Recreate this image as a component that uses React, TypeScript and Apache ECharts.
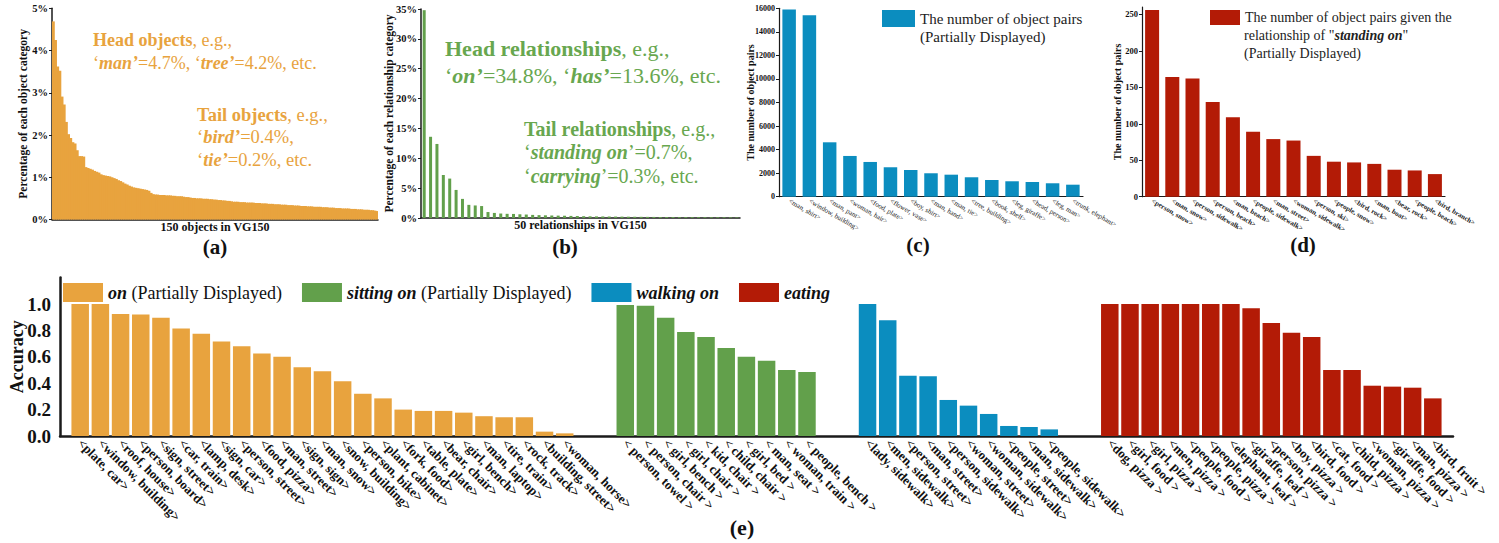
import React, { useEffect, useRef } from "react";
import * as echarts from "echarts";

const SERIF = "Liberation Serif, Times New Roman, serif";
const ORANGE = "#E8A33E";
const GREEN = "#62A04B";
const BLUE = "#0B8DBF";
const RED = "#B31B06";
const ORANGE_TXT = "#E8A33E";
const GREEN_TXT = "#68A74F";

// (a) percentage of each of the 150 object categories
const objectPercents = [
  4.69, 4.25, 3.62, 3.52, 2.91, 2.72, 2.31, 2.02, 1.93, 1.83, 1.8, 1.64,
  1.5, 1.5, 1.49,
  1.24, 1.22, 1.2, 1.18, 1.15, 1.13, 1.11,
  1.07, 1.05, 1.04, 1.03, 1.02, 1.0, 0.98,
  0.96, 0.93, 0.91, 0.88,
  0.85, 0.83, 0.8, 0.78, 0.76,
  0.75, 0.74, 0.73, 0.72, 0.71, 0.7, 0.68, 0.63,
  0.6, 0.59, 0.59, 0.58, 0.58, 0.58, 0.57, 0.57, 0.57, 0.56, 0.56, 0.55, 0.55, 0.55, 0.54, 0.53, 0.53,
  0.52, 0.51, 0.51, 0.5, 0.5, 0.5, 0.49, 0.49, 0.49, 0.48, 0.48, 0.47, 0.47, 0.46, 0.46, 0.45, 0.45, 0.44, 0.44, 0.43,
  0.42, 0.42, 0.42, 0.41, 0.41, 0.41, 0.4, 0.4, 0.4, 0.4, 0.39, 0.39, 0.39, 0.38, 0.38, 0.38, 0.37, 0.37, 0.37, 0.36,
  0.36, 0.36, 0.35, 0.35, 0.35, 0.34, 0.34, 0.34, 0.33, 0.33, 0.33,
  0.32, 0.32, 0.32, 0.31, 0.31, 0.31, 0.3, 0.3, 0.3, 0.3, 0.29, 0.29, 0.29, 0.28, 0.28, 0.28, 0.27, 0.27,
  0.27, 0.26, 0.26, 0.26, 0.26, 0.25, 0.25, 0.25, 0.24, 0.24, 0.24, 0.23, 0.23, 0.23, 0.22, 0.22, 0.21, 0.2,
];

// (b) percentage of each of the 50 relationship categories
const relationPercents = [
  34.8, 13.6, 12.4, 7.2, 6.6, 4.7, 3.2, 2.2, 2.1, 2.0,
  1.0, 0.85, 0.75, 0.7, 0.68, 0.62, 0.58, 0.52, 0.48, 0.45,
  0.42, 0.4, 0.38, 0.35, 0.33, 0.3, 0.28, 0.27, 0.26, 0.25,
  0.24, 0.23, 0.22, 0.21, 0.2, 0.19, 0.18, 0.17, 0.16, 0.16,
  0.15, 0.15, 0.14, 0.14, 0.13, 0.13, 0.12, 0.12, 0.11, 0.1,
];

// (c) number of object pairs
const pairLabels = [
  "<man, shirt>", "<window, building>", "<man, pant>", "<woman, hair>", "<food, plate>",
  "<flower, vase>", "<boy, shirt>", "<man, hand>", "<man, tie>", "<tree, building>",
  "<book, shelf>", "<leg, giraffe>", "<head, person>", "<leg, man>", "<trunk, elephant>",
];
const pairCounts = [15900, 15400, 4620, 3460, 2950, 2500, 2270, 1990, 1870, 1650, 1420, 1310, 1250, 1140, 1020];

// (d) number of object pairs given "standing on"
const standingLabels = [
  "<person, snow>", "<man, snow>", "<person, sidewalk>", "<person, beach>", "<man, beach>",
  "<people, sidewalk>", "<man, street>", "<woman, sidewalk>", "<person, ski>", "<people, snow>",
  "<bird, rock>", "<man, boat>", "<bear, rock>", "<people, beach>", "<bird, branch>",
];
const standingCounts = [256, 164, 162, 130, 109, 89, 79, 77, 56, 48, 47, 45, 37, 36, 31];

// (e) accuracy per predicate
const onLabels = [
  "<plate, car>", "<window, building>", "<roof, house>", "<person, board>", "<sign, street>",
  "<car, train>", "<lamp, desk>", "<sign, car>", "<person, street>", "<food, pizza>",
  "<man, street>", "<sign, sign>", "<man, snow>", "<snow, building>", "<person, bike>",
  "<plant, cabinet>", "<fork, food>", "<table, plate>", "<bear, chair>", "<girl, bench>",
  "<man, laptop>", "<tire, train>", "<rock, track>", "<building, street>", "<woman, horse>",
];
const onAccuracy = [
  1.0, 1.0, 0.925, 0.92, 0.895, 0.815, 0.775, 0.715, 0.68, 0.625,
  0.6, 0.52, 0.49, 0.415, 0.32, 0.285, 0.2, 0.19, 0.19, 0.177,
  0.15, 0.142, 0.142, 0.033, 0.02,
];
const sittingLabels = [
  "< person, towel >", "< person, chair >", "< girl, bench >", "< girl, chair >", "< kid, chair >",
  "< child, chair >", "< girl, bed >", "< man, seat >", "< woman, train >", "< people, bench >",
];
const sittingAccuracy = [0.992, 0.987, 0.896, 0.788, 0.75, 0.667, 0.6, 0.57, 0.5, 0.485];
const walkingLabels = [
  "<lady, sidewalk>", "<men, sidewalk>", "<person, street>", "<man, street>", "<person, sidewalk>",
  "<woman, street>", "<woman, sidewalk>", "<people, street>", "<man, sidewalk>", "<people, sidewalk>",
];
const walkingAccuracy = [1.0, 0.877, 0.457, 0.452, 0.273, 0.23, 0.167, 0.076, 0.068, 0.05];
const eatingLabels = [
  "<dog, pizza >", "<girl, food >", "<girl, pizza >", "<men, pizza >", "<people, food >",
  "<people, pizza >", "<elephant, leaf >", "<giraffe, leaf >", "<person, pizza >", "<boy, pizza >",
  "<bird, food >", "<cat, food >", "<child, pizza >", "<woman, pizza >", "<giraffe, food >",
  "<man, pizza >", "<bird, fruit >",
];
const eatingAccuracy = [1, 1, 1, 1, 1, 1, 1, 0.967, 0.856, 0.783, 0.75, 0.5, 0.5, 0.381, 0.374, 0.366, 0.285];

const predicateNames = ["on", "sitting on", "walking on", "eating"];

function buildOption() {
  // layout of panel (e): one blank slot at each end, two blank slots between groups
  const groups = [
    { labels: onLabels, values: onAccuracy, color: ORANGE },
    { labels: sittingLabels, values: sittingAccuracy, color: GREEN },
    { labels: walkingLabels, values: walkingAccuracy, color: BLUE },
    { labels: eatingLabels, values: eatingAccuracy, color: RED },
  ];
  const eCats: string[] = [""];
  const starts: number[] = [];
  groups.forEach((g, gi) => {
    if (gi > 0) eCats.push("", "");
    starts.push(eCats.length);
    g.labels.forEach((l) => eCats.push(l));
  });
  eCats.push("");
  const eSeries = groups.map((g, gi) => {
    const data: (number | string)[] = eCats.map(() => "-");
    g.values.forEach((v, i) => (data[starts[gi] + i] = v));
    return {
      type: "bar",
      name: predicateNames[gi],
      xAxisIndex: 4,
      yAxisIndex: 4,
      stack: "acc",
      barWidth: 17.5,
      data,
      itemStyle: { color: g.color },
    };
  });

  const tickFont = (size: number) => ({
    fontFamily: SERIF,
    fontWeight: "bold",
    fontSize: size,
    color: "#111",
  });
  const line = (w: number) => ({ show: true, lineStyle: { color: "#1a1a1a", width: w } });

  const rich = (size: number, color: string) => ({
    b: { fontFamily: SERIF, fontSize: size, fontWeight: "bold", fill: color, color },
    bi: { fontFamily: SERIF, fontSize: size, fontWeight: "bold", fontStyle: "italic", fill: color, color },
    n: { fontFamily: SERIF, fontSize: size, fontWeight: "normal", fill: color, color },
  });
  const txt = (x: number, y: number, text: string, size: number, color: string, align = "left") => ({
    type: "text",
    x,
    y,
    silent: true,
    style: {
      text,
      fontFamily: SERIF,
      fontSize: size,
      fill: color,
      align,
      verticalAlign: "middle",
      rich: rich(size, color),
    },
  });

  const objCats = objectPercents.map((_, i) => String(i + 1));
  const relCats = relationPercents.map((_, i) => String(i + 1));
  const gridBase = { containLabel: false, outerBoundsMode: "none" };
  const yName = { nameLocation: "middle", nameMoveOverlap: false };

  return {
    animation: false,
    backgroundColor: "#fff",
    grid: [
      { ...gridBase, left: 52, top: 8.3, width: 326, height: 211.2 },
      { ...gridBase, left: 421, top: 9, width: 319, height: 209 },
      { ...gridBase, left: 779, top: 8.3, width: 304, height: 188.4 },
      { ...gridBase, left: 1142, top: 7.1, width: 303, height: 189.6 },
      { ...gridBase, left: 60, top: 277.6, width: 1393, height: 158.4 },
    ],
    legend: [
      {
        data: ["The number of object pairs"],
        left: 882,
        top: 10,
        padding: 0,
        itemWidth: 33,
        itemHeight: 17,
        icon: "rect",
        selectedMode: false,
        textStyle: { fontFamily: SERIF, fontSize: 15, color: "#222" },
      },
      {
        data: ["The number of object pairs given the"],
        left: 1210,
        top: 10,
        padding: 0,
        itemWidth: 30,
        itemHeight: 15,
        icon: "rect",
        selectedMode: false,
        textStyle: { fontFamily: SERIF, fontSize: 14, color: "#222" },
      },
      {
        data: predicateNames,
        left: 63,
        top: 283,
        padding: 0,
        itemWidth: 40,
        itemHeight: 19,
        itemGap: 20,
        icon: "rect",
        selectedMode: false,
        formatter: (name: string) =>
          name === "on" || name === "sitting on"
            ? `{bi|${name}}{n| (Partially Displayed)}`
            : `{bi|${name}}`,
        textStyle: {
          fontFamily: SERIF,
          fontSize: 18,
          color: "#111",
          rich: {
            bi: { fontFamily: SERIF, fontSize: 18, fontWeight: "bold", fontStyle: "italic", color: "#111" },
            n: { fontFamily: SERIF, fontSize: 18, color: "#111" },
          },
        },
      },
    ],
    xAxis: [
      {
        type: "category",
        gridIndex: 0,
        data: objCats,
        axisLine: line(1.5),
        axisTick: { show: false },
        axisLabel: { show: false },
        name: "150 objects in VG150",
        nameLocation: "middle",
        nameMoveOverlap: false,
        nameGap: 1,
        nameTextStyle: { ...tickFont(12), verticalAlign: "top" },
      },
      {
        type: "category",
        gridIndex: 1,
        data: relCats,
        axisLine: line(1.5),
        axisTick: { show: false },
        axisLabel: { show: false },
        name: "50 relationships in VG150",
        nameLocation: "middle",
        nameMoveOverlap: false,
        nameGap: 1,
        nameTextStyle: { ...tickFont(12), verticalAlign: "top" },
      },
      {
        type: "category",
        gridIndex: 2,
        data: pairLabels,
        axisLine: line(1.2),
        axisTick: { show: false },
        axisLabel: { interval: 0, rotate: -30, margin: 4, fontFamily: SERIF, fontSize: 7, color: "#222" },
      },
      {
        type: "category",
        gridIndex: 3,
        data: standingLabels,
        axisLine: line(1.2),
        axisTick: { show: false },
        axisLabel: { interval: 0, rotate: -30, margin: 4, fontFamily: SERIF, fontSize: 7, fontWeight: "bold", color: "#222" },
      },
      {
        type: "category",
        gridIndex: 4,
        data: eCats,
        boundaryGap: false,
        axisLine: line(2.5),
        axisTick: { show: false },
        axisLabel: { interval: 0, rotate: -45, margin: 5, ...tickFont(13) },
      },
    ],
    yAxis: [
      {
        type: "value",
        gridIndex: 0,
        min: 0,
        max: 5,
        interval: 1,
        axisLine: line(1.5),
        axisTick: { show: true, length: 3, lineStyle: { color: "#1a1a1a" } },
        splitLine: { show: false },
        axisLabel: { formatter: (v: number) => `${v}%`, margin: 4, ...tickFont(10.5) },
        name: "Percentage of each object category",
        ...yName,
        nameGap: 23,
        nameTextStyle: tickFont(11.5),
      },
      {
        type: "value",
        gridIndex: 1,
        min: 0,
        max: 35,
        interval: 5,
        axisLine: line(1.5),
        axisTick: { show: true, length: 3, lineStyle: { color: "#1a1a1a" } },
        splitLine: { show: false },
        axisLabel: { formatter: (v: number) => `${v}%`, margin: 4, ...tickFont(10.5) },
        name: "Percentage of each relationship category",
        ...yName,
        nameGap: 26,
        nameTextStyle: tickFont(11.5),
      },
      {
        type: "value",
        gridIndex: 2,
        min: 0,
        max: 16000,
        interval: 2000,
        axisLine: line(1.2),
        axisTick: { show: true, length: 3, lineStyle: { color: "#1a1a1a" } },
        splitLine: { show: false },
        axisLabel: { margin: 4, formatter: (v: number) => String(v), ...tickFont(8) },
        name: "The number of object pairs",
        ...yName,
        nameGap: 24,
        nameTextStyle: tickFont(10),
      },
      {
        type: "value",
        gridIndex: 3,
        min: 0,
        max: 260,
        interval: 50,
        axisLine: line(1.2),
        axisTick: { show: true, length: 3, lineStyle: { color: "#1a1a1a" } },
        splitLine: { show: false },
        axisLabel: { margin: 4, showMaxLabel: false, formatter: (v: number) => String(v), ...tickFont(8.5) },
        name: "The number of object pairs",
        ...yName,
        nameGap: 20,
        nameTextStyle: tickFont(10),
      },
      {
        type: "value",
        gridIndex: 4,
        min: 0,
        max: 1.2,
        interval: 0.2,
        axisLine: line(2.5),
        axisTick: { show: false },
        splitLine: { show: false },
        axisLabel: { margin: 9, showMaxLabel: false, formatter: (v: number) => v.toFixed(1), ...tickFont(19) },
        name: "Accuracy",
        ...yName,
        nameGap: 34,
        nameTextStyle: tickFont(18),
      },
    ],
    series: [
      {
        type: "bar",
        name: "objects",
        xAxisIndex: 0,
        yAxisIndex: 0,
        data: objectPercents,
        barWidth: 3.4,
        itemStyle: { color: ORANGE },
      },
      {
        type: "bar",
        name: "relationships",
        xAxisIndex: 1,
        yAxisIndex: 1,
        data: relationPercents,
        barWidth: 3,
        itemStyle: { color: GREEN },
      },
      {
        type: "bar",
        name: "The number of object pairs",
        xAxisIndex: 2,
        yAxisIndex: 2,
        data: pairCounts,
        barWidth: 13.5,
        itemStyle: { color: BLUE },
      },
      {
        type: "bar",
        name: "The number of object pairs given the",
        xAxisIndex: 3,
        yAxisIndex: 3,
        data: standingCounts,
        barWidth: 14,
        itemStyle: { color: RED },
      },
      ...eSeries,
    ],
    graphic: [
      txt(93, 40, "{b|Head objects}{n|, e.g.,}", 18, ORANGE_TXT),
      txt(93, 63, "{n|‘}{bi|man’}{n|=4.7%, ‘}{bi|tree’}{n|=4.2%, etc.}", 18, ORANGE_TXT),
      txt(197, 115, "{b|Tail objects}{n|, e.g.,}", 18.5, ORANGE_TXT),
      txt(197, 137, "{n|‘}{bi|bird’}{n|=0.4%,}", 18.5, ORANGE_TXT),
      txt(197, 160, "{n|‘}{bi|tie’}{n|=0.2%, etc.}", 18.5, ORANGE_TXT),
      txt(445, 48, "{b|Head relationships}{n|, e.g.,}", 22, GREEN_TXT),
      txt(445, 75, "{n|‘}{bi|on’}{n|=34.8%, ‘}{bi|has’}{n|=13.6%, etc.}", 22, GREEN_TXT),
      txt(524, 129, "{b|Tail relationships}{n|, e.g.,}", 20, GREEN_TXT),
      txt(524, 152, "{n|‘}{bi|standing on}{n|’=0.7%,}", 20, GREEN_TXT),
      txt(524, 176, "{n|‘}{bi|carrying}{n|’=0.3%, etc.}", 20, GREEN_TXT),
      txt(920, 37, "{n|(Partially Displayed)}", 15, "#222"),
      txt(1244, 35, '{n|relationship of "}{bi|standing on}{n|"}', 14, "#222"),
      txt(1244, 53, "{n|(Partially Displayed)}", 14, "#222"),
      txt(215, 247, "{b|(a)}", 21, "#111", "center"),
      txt(565, 247, "{b|(b)}", 21, "#111", "center"),
      txt(918, 245, "{b|(c)}", 21, "#111", "center"),
      txt(1303, 245, "{b|(d)}", 21, "#111", "center"),
      txt(742, 527, "{b|(e)}", 22, "#111", "center"),
    ],
  };
}

export default function App() {
  const ref = useRef<HTMLDivElement>(null);
  useEffect(() => {
    if (!ref.current) return;
    const chart = echarts.init(ref.current, null, { renderer: "svg" });
    chart.setOption(buildOption() as any);
    return () => chart.dispose();
  }, []);
  return (
    <div
      ref={ref}
      style={{ position: "fixed", left: 0, top: 0, width: 1499, height: 543, background: "#fff" }}
    />
  );
}
